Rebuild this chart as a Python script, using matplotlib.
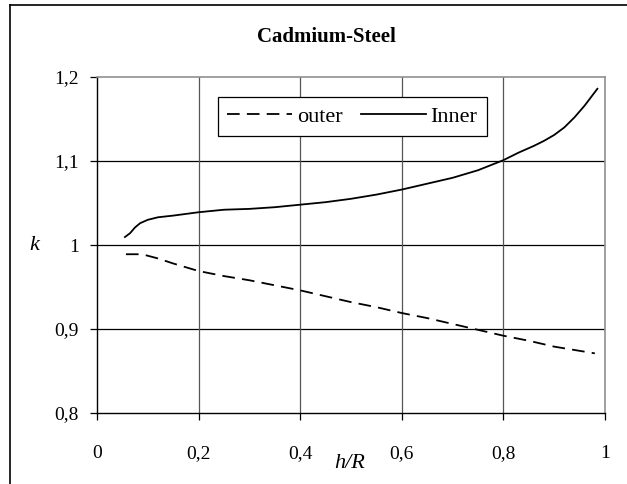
import matplotlib.pyplot as plt
from matplotlib.ticker import FuncFormatter

############### Data ###############
outer_x = [0.057, 0.08, 0.095, 0.12, 0.15, 0.20, 0.25, 0.30, 0.35, 0.40, 0.45, 0.50, 0.55, 0.60, 0.65, 0.70, 0.75, 0.80, 0.85, 0.90, 0.95, 0.98]
outer_k = [0.989, 0.989, 0.988, 0.984, 0.978, 0.969, 0.963, 0.958, 0.952, 0.946, 0.939, 0.932, 0.926, 0.919, 0.913, 0.906, 0.899, 0.892, 0.886, 0.879, 0.874, 0.871]

inner_x = [0.055, 0.065, 0.075, 0.085, 0.10, 0.12, 0.15, 0.20, 0.25, 0.30, 0.35, 0.40, 0.45, 0.50, 0.55, 0.60, 0.65, 0.70, 0.75, 0.80, 0.83, 0.86, 0.88, 0.90, 0.92, 0.94, 0.96, 0.985]
inner_k = [1.0095, 1.014, 1.021, 1.026, 1.030, 1.033, 1.035, 1.039, 1.042, 1.043, 1.045, 1.048, 1.051, 1.055, 1.060, 1.066, 1.073, 1.080, 1.089, 1.101, 1.110, 1.118, 1.124, 1.131, 1.140, 1.152, 1.166, 1.186]

x_ticks = [0, 0.2, 0.4, 0.6, 0.8, 1]
y_ticks = [0.8, 0.9, 1.0, 1.1, 1.2]

plt.rcParams['font.family'] = ['Liberation Serif', 'DejaVu Serif']

fig = plt.figure(figsize=(6.27, 4.84), dpi=100)
ax = fig.add_axes([0.1547, 0.1467, 0.8102, 0.6942])

# outer frame of the chart (cut at right / bottom like the reference)
fig.add_artist(plt.Line2D([0.0160, 0.0160], [0, 0.99], transform=fig.transFigure, color='black', lw=1.2))
fig.add_artist(plt.Line2D([0.0160, 1.0], [0.99, 0.99], transform=fig.transFigure, color='black', lw=1.2))

ax.plot(outer_x, outer_k, color='black', lw=1.3, dashes=(7, 4), label='outer')
ax.plot(inner_x, inner_k, color='black', lw=1.3, label='Inner')

ax.set_xlim(0, 1)
ax.set_ylim(0.8, 1.2)
ax.set_xticks(x_ticks)
ax.set_yticks(y_ticks)
comma = FuncFormatter(lambda v, p: ('%g' % round(v, 2)).replace('.', ','))
ax.xaxis.set_major_formatter(comma)
ax.yaxis.set_major_formatter(comma)

for y in y_ticks[1:-1]:
    ax.axhline(y, color='black', lw=0.9, zorder=0)
for x in x_ticks[1:-1]:
    ax.axvline(x, color='#555555', lw=0.9, zorder=0)

for side in ['top', 'right']:
    ax.spines[side].set_color('#909090')
    ax.spines[side].set_linewidth(1.2)
for side in ['left', 'bottom']:
    ax.spines[side].set_color('black')
    ax.spines[side].set_linewidth(1.0)

ax.tick_params(axis='both', labelsize=14, direction='out', length=5, width=0.9)
ax.tick_params(axis='y', pad=8)
ax.tick_params(axis='x', pad=18)

fig.text(326 / 627, 1 - 42 / 484, 'Cadmium-Steel', fontsize=15, fontweight='bold', ha='center', va='baseline')
fig.text(34 / 627, 1 - 245 / 484, 'k', fontsize=16, style='italic', ha='center', va='center')
fig.text(350 / 627, 1 - 463 / 484, 'h/R', fontsize=16, style='italic', ha='center', va='center')

leg = ax.legend(loc='upper left', bbox_to_anchor=((218 - 97) / 508, (413 - 97) / 336), ncol=2, fontsize=16,
                frameon=True, fancybox=False, edgecolor='black', framealpha=1,
                handlelength=2.9, handletextpad=0.22, columnspacing=0.85, borderpad=0.42,
                borderaxespad=0)
leg.get_frame().set_linewidth(0.9)

plt.savefig('out.png', dpi=100)
